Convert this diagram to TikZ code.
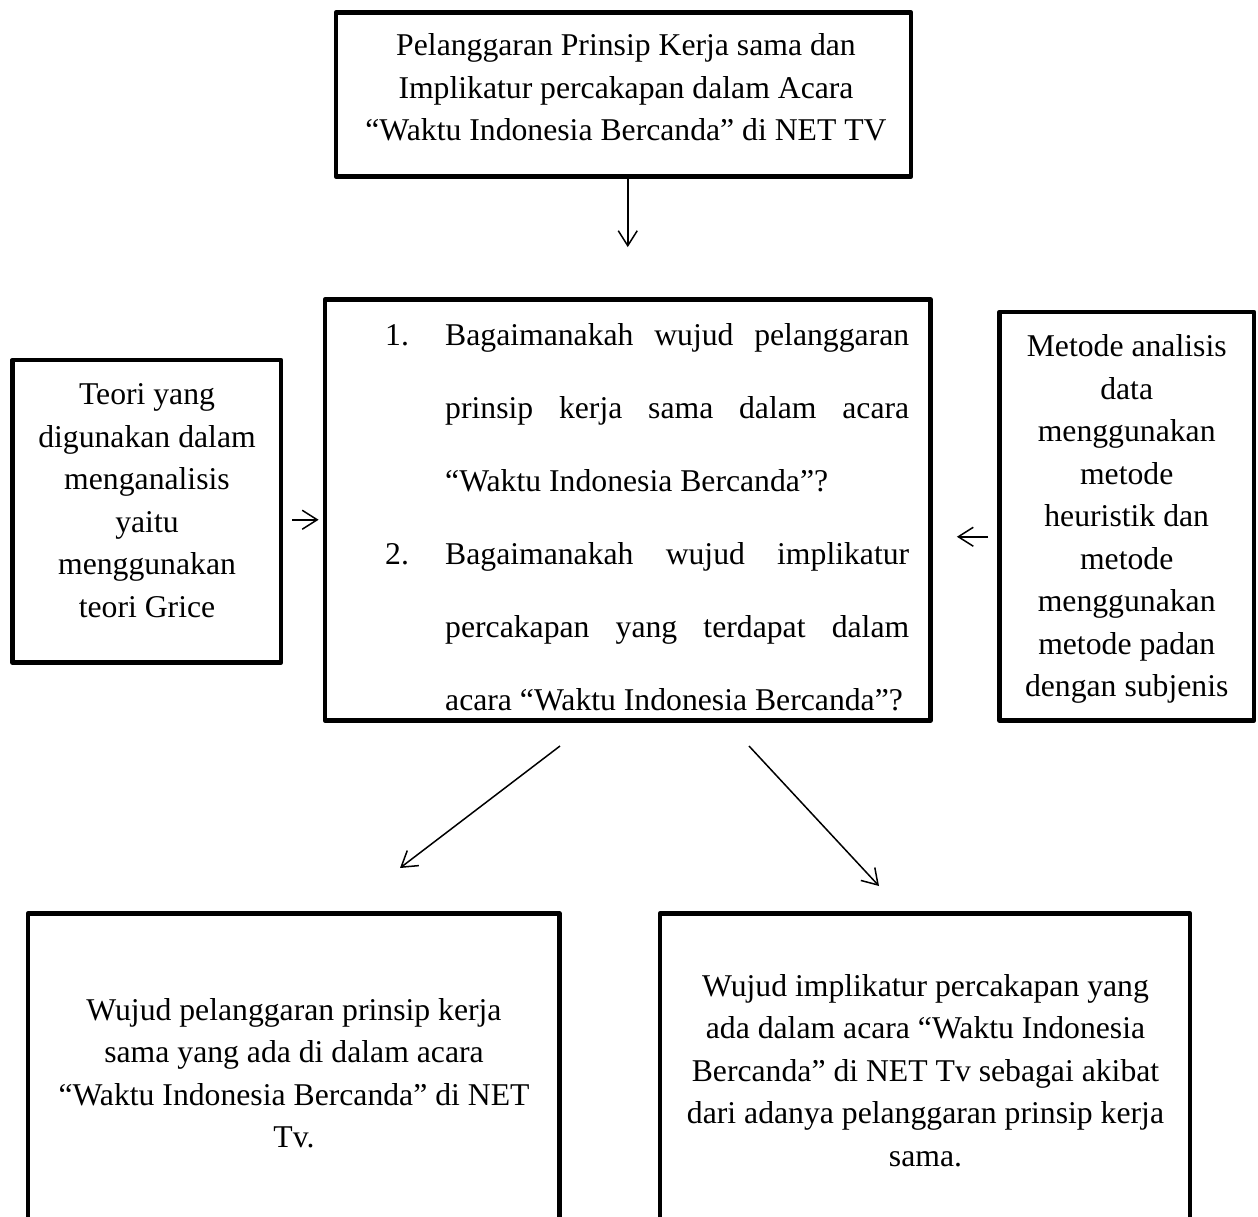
\documentclass[tikz,border=0pt]{standalone}
\usepackage{fontspec}
\setmainfont{Liberation Serif}
\usetikzlibrary{arrows.meta}

\tikzset{
  box/.style={draw, line width=4.8pt, line join=round, inner sep=0pt},
  txt/.style={align=center, inner sep=0pt, font=\fontsize{31.7}{42.5}\selectfont},
  link/.style={-{Straight Barb[length=15pt,width=19pt]}, line width=1.5pt}
}

\begin{document}
\begin{tikzpicture}[x=1pt,y=-1pt]
        \useasboundingbox (0,0) rectangle (1258,1216);
        \clip (0,0) rectangle (1258,1216);

        % Title
        \node[box, minimum width=575pt, minimum height=164pt] (title) at (623.5,94.5) {};
        \node[txt] (titletext) at (626,87.3) {Pelanggaran Prinsip Kerja sama dan\\Implikatur percakapan dalam Acara\\“Waktu Indonesia Bercanda” di NET TV};

        % Research questions
        \node[box, minimum width=605.5pt, minimum height=421pt] (question) at (627.75,510) {};
        \begin{scope}
          \clip (330,305) rectangle (926,710);
          \node[anchor=north west, inner sep=0pt, text width=524pt, align=justify,
                font=\fontsize{31.7}{73}\selectfont] (questiontext) at (385,322.9) {%
            \hyphenpenalty=10000\tolerance=10000
            \hangindent=60pt\hangafter=1\noindent\makebox[60pt][l]{1.}Bagaimanakah wujud pelanggaran\linebreak prinsip kerja sama dalam acara\linebreak “Waktu Indonesia Bercanda”?\par
            \hangindent=60pt\hangafter=1\noindent\makebox[60pt][l]{2.}Bagaimanakah wujud implikatur\linebreak percakapan yang terdapat dalam\linebreak acara “Waktu Indonesia Bercanda”?\par};
        \end{scope}

        % Theory
        \node[box, minimum width=268.5pt, minimum height=302.5pt] (theory) at (146.75,511.25) {};
        \node[txt] (theorytext) at (147,500.4) {Teori yang\\digunakan dalam\\menganalisis\\yaitu\\menggunakan\\teori Grice};

        % Method
        \node[box, minimum width=254.5pt, minimum height=408.5pt] (method) at (1126.75,516.25) {};
        \node[txt] (methodtext) at (1126.7,519) {Metode analisis\\data\\menggunakan\\metode\\heuristik dan\\metode\\menggunakan\\metode padan\\dengan subjenis};

        % Results
        \node[box, minimum width=531.5pt, minimum height=340pt] (violation) at (293.75,1083.5) {};
        \node[txt] (violationtext) at (294,1073.2) {Wujud pelanggaran prinsip kerja\\sama yang ada di dalam acara\\“Waktu Indonesia Bercanda” di NET\\Tv.};
        \node[box, minimum width=530pt, minimum height=340pt] (implication) at (925,1083.5) {};
        \node[txt] (implicationtext) at (925.5,1070.4) {Wujud implikatur percakapan yang\\ada dalam acara “Waktu Indonesia\\Bercanda” di NET Tv sebagai akibat\\dari adanya pelanggaran prinsip kerja\\sama.};

        % Arrows
        \draw[link, shorten >=50pt] (title.south -| question.north) -- (question.north);
        \draw[link, shorten <=9pt, shorten >=4pt] ([yshift=-8.5pt]theory.east) -- ([yshift=-8.5pt]theory.east -| question.west);
        \draw[link, shorten <=9pt, shorten >=24pt] ([yshift=-20.5pt]method.west) -- ([yshift=-20.5pt]method.west -| question.east);

        \coordinate (splitL) at (560,746);
        \coordinate (tipL) at (400,868);
        \coordinate (splitR) at (749,746);
        \coordinate (tipR) at (879,886);
        \draw[link] (splitL) -- (tipL);
        \draw[link] (splitR) -- (tipR);
\end{tikzpicture}
\end{document}
